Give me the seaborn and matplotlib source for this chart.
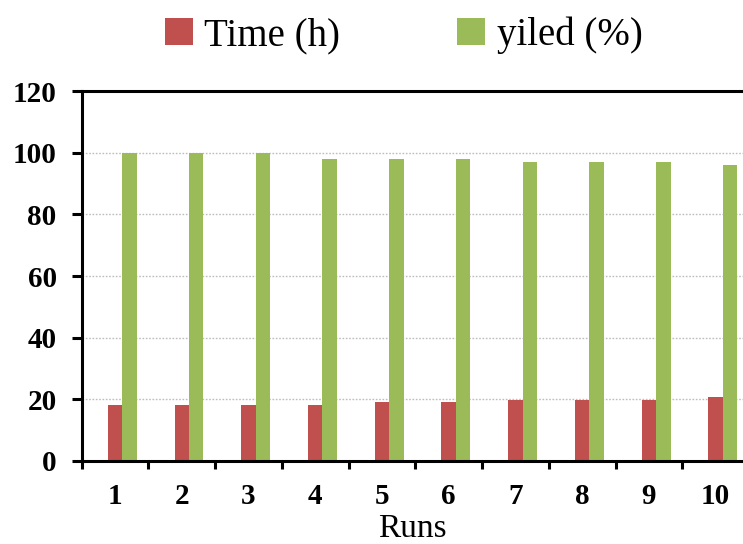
import matplotlib
matplotlib.use("Agg")
import matplotlib.pyplot as plt
import seaborn as sns
import pandas as pd
from matplotlib.patches import Patch

# Reuse runs and their measurements
runs = ["1", "2", "3", "4", "5", "6", "7", "8", "9", "10"]
time_h = [18, 18, 18, 18, 19, 19, 19.8, 19.8, 19.8, 20.6]
yield_pct = [100, 100, 100, 98, 98, 98, 97, 97, 97, 96]
series = ["Time (h)", "yiled (%)"]
y_ticks = [0, 20, 40, 60, 80, 100, 120]

RED = "#C0504D"
GREEN = "#9BBB59"

# Long-form table; an empty leading series keeps the Excel-style slot offset
rows = []
for r, t, y in zip(runs, time_h, yield_pct):
    rows.append({"Runs": r, "series": "_pad", "value": 0.0})
    rows.append({"Runs": r, "series": series[0], "value": t})
    rows.append({"Runs": r, "series": series[1], "value": y})
df = pd.DataFrame(rows)

sns.set_theme(style="white")
plt.rcParams["font.family"] = ["Liberation Serif", "DejaVu Serif"]
plt.rcParams["text.color"] = "black"

fig = plt.figure(figsize=(7.43, 5.44), dpi=100)
ax = fig.add_axes([0.110, 0.1526, 0.898, 0.680])

sns.barplot(
    data=df, x="Runs", y="value", hue="series",
    hue_order=["_pad"] + series, order=runs,
    palette={"_pad": "white", series[0]: RED, series[1]: GREEN},
    width=0.65, gap=0, linewidth=0, saturation=1, legend=False,
    errorbar=None, ax=ax,
)

ax.set_xlim(-0.5, 9.5)
ax.set_ylim(0, 120)
ax.set_yticks(y_ticks)
ax.set_yticklabels([str(v) for v in y_ticks], fontsize=21, fontweight="bold")

# Gridlines (dotted) on interior y ticks
for v in y_ticks[1:-1]:
    ax.axhline(v, color="#BDBDBD", linestyle=(0, (1.2, 1.2)), linewidth=1.0, zorder=0)
ax.set_axisbelow(True)

# Category labels centered, tick marks between categories
ax.set_xticks(range(len(runs)))
ax.set_xticklabels(runs, fontsize=21, fontweight="bold")
ax.set_xticks([i - 0.5 for i in range(len(runs) + 1)], minor=True)
ax.tick_params(axis="x", which="major", length=0, pad=16, bottom=True)
ax.tick_params(axis="x", which="minor", direction="out", length=6, width=2.2,
               color="black", bottom=True)
ax.tick_params(axis="y", which="major", direction="out", length=7, width=2.2,
               color="black", pad=11, left=True)

for side in ["left", "bottom", "top", "right"]:
    ax.spines[side].set_color("black")
    ax.spines[side].set_linewidth(2.2)
    ax.spines[side].set_visible(True)

ax.set_ylabel("")
ax.set_xlabel("")
for lab in ax.get_xticklabels() + ax.get_yticklabels():
    lab.set_color("black")

# Axis title placed by its baseline so it sits at the lower edge
fig.text(0.555, 7 / 544, "Runs", fontsize=24, color="black",
         ha="center", va="baseline")

handles = [Patch(facecolor=RED, edgecolor="none"), Patch(facecolor=GREEN, edgecolor="none")]
leg = fig.legend(handles, series, loc="center", bbox_to_anchor=(0.543, 0.935), ncol=2,
                 frameon=False, fontsize=28, handlelength=0.72, handleheight=0.72,
                 handletextpad=0.3, columnspacing=3.0)
for t in leg.get_texts():
    t.set_color("black")

fig.savefig("out.png", dpi=100)
